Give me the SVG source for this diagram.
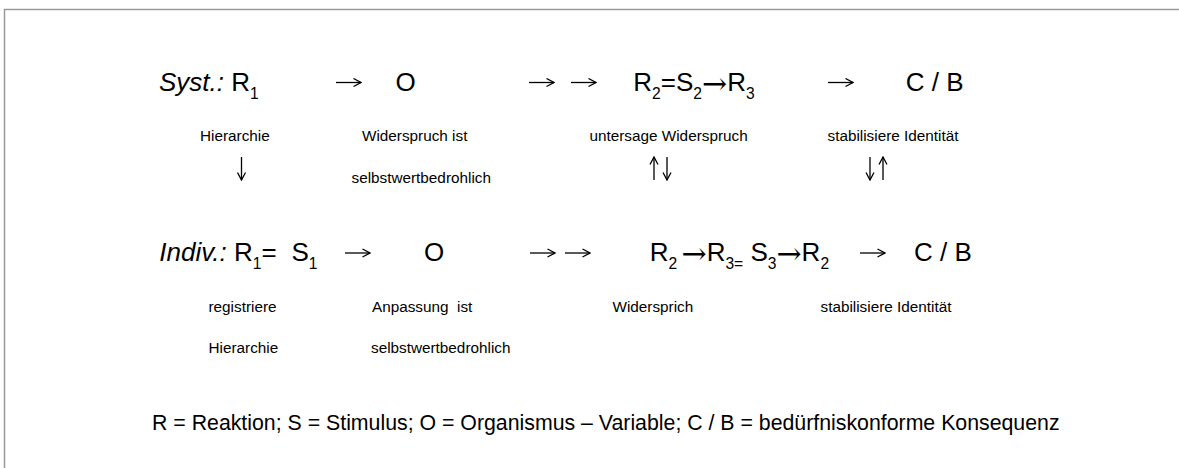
<svg xmlns="http://www.w3.org/2000/svg" width="1179" height="468" viewBox="0 0 1179 468">
<style>
text { font-family: "Liberation Sans", Arial, sans-serif; fill: #000; white-space: pre; }
.main { font-size: 26px; }
.it { font-style: italic; }
.sub { font-size: 15.6px; }
.lbl { font-size: 15.3px; }
.leg { font-size: 21.3px; }
.ar { font-family: "DejaVu Serif", serif; font-size: 30px; }
.frame { fill: none; stroke: #9a9a9a; stroke-width: 1.5; }
.conn { fill: none; stroke: #000; stroke-width: 1.3; marker-end: url(#head); }
</style>
<defs>
  <marker id="head" viewBox="0 0 10 10" refX="9" refY="5" markerWidth="10" markerHeight="10" markerUnits="userSpaceOnUse" orient="auto">
    <path d="M1.5 1 L9 5 L1.5 9" fill="none" stroke="#000" stroke-width="1.3"/>
  </marker>
</defs>
<rect class="frame" x="4.5" y="9.5" width="1200" height="500"/>

<!-- Row 1: System -->
<g id="syst-r1">
  <text class="main" x="159" y="90.7"><tspan class="it">Syst.:</tspan> R<tspan class="sub" dy="8">1</tspan></text>
  <text class="lbl" x="200" y="141">Hierarchie</text>
</g>
<g id="syst-o">
  <text class="main" x="395.4" y="90.7">O</text>
  <text class="lbl" x="362" y="141">Widerspruch ist</text>
  <text class="lbl" x="351.5" y="183">selbstwertbedrohlich</text>
</g>
<g id="syst-r2s2r3">
  <text class="main" x="633.3" y="90.7">R<tspan class="sub" dy="8">2</tspan><tspan dy="-8">=S</tspan><tspan class="sub" dy="8">2</tspan><tspan class="ar" dy="-5">→</tspan><tspan dy="-3">R</tspan><tspan class="sub" dy="8">3</tspan></text>
  <text class="lbl" x="589.5" y="141">untersage Widerspruch</text>
</g>
<g id="syst-cb">
  <text class="main" x="905.7" y="90.7">C / B</text>
  <text class="lbl" x="827.5" y="141">stabilisiere Identität</text>
</g>

<!-- Row 2: Individuum -->
<g id="indiv-r1s1">
  <text class="main" x="159.3" y="261"><tspan class="it">Indiv.:</tspan> R<tspan class="sub" dy="8">1</tspan><tspan dy="-8">=</tspan><tspan x="291.5">S</tspan><tspan class="sub" dy="8">1</tspan></text>
  <text class="lbl" x="208.5" y="312.3">registriere</text>
  <text class="lbl" x="208.5" y="353.3">Hierarchie</text>
</g>
<g id="indiv-o">
  <text class="main" x="424" y="261">O</text>
  <text class="lbl" x="372" y="312.3">Anpassung  ist</text>
  <text class="lbl" x="371" y="353.3">selbstwertbedrohlich</text>
</g>
<g id="indiv-r2r3s3r2">
  <text class="main" x="649.7" y="261">R<tspan class="sub" dy="8">2 </tspan><tspan class="ar" dy="-5">→</tspan><tspan dy="-3">R</tspan><tspan class="sub" dy="8">3=</tspan><tspan dy="-8"> S</tspan><tspan class="sub" dy="8">3</tspan><tspan class="ar" dy="-5">→</tspan><tspan dy="-3">R</tspan><tspan class="sub" dy="8">2</tspan></text>
  <text class="lbl" x="612.5" y="312.3">Widersprich</text>
</g>
<g id="indiv-cb">
  <text class="main" x="914" y="261">C / B</text>
  <text class="lbl" x="820.5" y="312.3">stabilisiere Identität</text>
</g>

<!-- Connectors -->
<g id="connectors">
  <path class="conn" d="M336 82.5 H361"/>
  <path class="conn" d="M529 82.5 H554"/>
  <path class="conn" d="M571 82.5 H596"/>
  <path class="conn" d="M828 82.5 H853"/>
  <path class="conn" d="M241.5 157 V180"/>
  <path class="conn" d="M654 180 V157"/>
  <path class="conn" d="M667 157 V180"/>
  <path class="conn" d="M870 157 V180"/>
  <path class="conn" d="M883 180 V157"/>
  <path class="conn" d="M345 253 H370"/>
  <path class="conn" d="M530 253 H555"/>
  <path class="conn" d="M565 253 H590"/>
  <path class="conn" d="M860 253 H885"/>
</g>

<!-- Legend -->
<g id="legend">
  <text class="leg" x="152" y="430">R = Reaktion; S = Stimulus; O = Organismus – Variable; C / B = bedürfniskonforme Konsequenz</text>
</g>
</svg>
